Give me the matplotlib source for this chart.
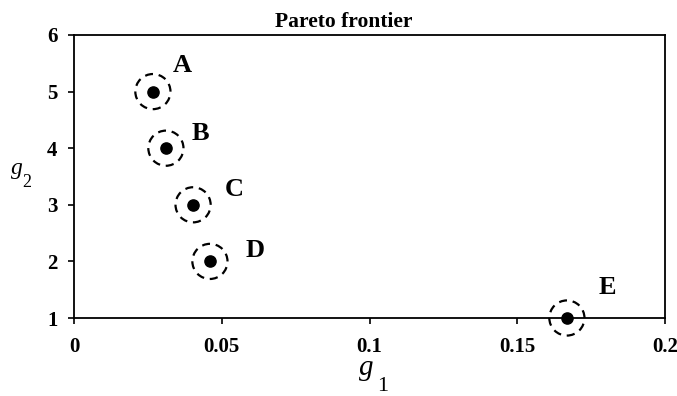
import matplotlib
matplotlib.use("Agg")
import matplotlib.pyplot as plt

labels = ["A", "B", "C", "D", "E"]
g1 = [0.0267, 0.0311, 0.0403, 0.046, 0.1668]
g2 = [5, 4, 3, 2, 1]
xticks = [0, 0.05, 0.1, 0.15, 0.2]
xticklabels = ["0", "0.05", "0.1", "0.15", "0.2"]
yticks = [1, 2, 3, 4, 5, 6]

# label offsets in pixels (layout)
label_offsets = [(29, 26), (35, 15), (41, 15), (45, 11), (40, 30)]

plt.rcParams['font.family'] = ['Liberation Serif', 'DejaVu Serif']

W, H = 677, 396
fig = plt.figure(figsize=(W/100, H/100), dpi=100)
ax = fig.add_axes([74/W, 1 - 318/H, (665-74)/W, (318-35)/H])

ax.scatter(g1, g2, s=640, facecolors='none', edgecolors='black',
           linestyles=[(0, (3.6, 2.6))], linewidths=1.6, clip_on=False, zorder=3)
ax.scatter(g1, g2, s=65, color='black', clip_on=False, zorder=4)

for lab, x, y, off in zip(labels, g1, g2, label_offsets):
    ax.annotate(lab, (x, y), xytext=off, textcoords='offset pixels',
                fontsize=19, fontweight='bold', ha='center', va='center')

ax.set_xlim(0, 0.2)
ax.set_ylim(1, 6)
ax.set_xticks(xticks)
ax.set_xticklabels(xticklabels)
ax.set_yticks(yticks)
for lbl in ax.get_xticklabels() + ax.get_yticklabels():
    lbl.set_fontweight('bold')
    lbl.set_fontsize(15)
ax.tick_params(direction='out', length=4, width=1.2)
ax.tick_params(axis='x', pad=10)
ax.tick_params(axis='y', pad=8)
for sp in ax.spines.values():
    sp.set_linewidth(1.3)

fig.text(344/W, 1 - 27/H, "Pareto frontier", fontsize=15.5, fontweight='bold',
         ha='center', va='baseline')

# axis labels: italic g with large, low subscript
fig.text(366/W, 1 - 375/H, "g", fontsize=21, fontstyle='italic', ha='center', va='baseline')
fig.text(383/W, 1 - 391/H, "1", fontsize=16, ha='center', va='baseline')
fig.text(17/W, 1 - 174/H, "g", fontsize=17, fontstyle='italic', ha='center', va='baseline')
fig.text(27/W, 1 - 187/H, "2", fontsize=13, ha='center', va='baseline')

fig.savefig("out.png", dpi=100)
